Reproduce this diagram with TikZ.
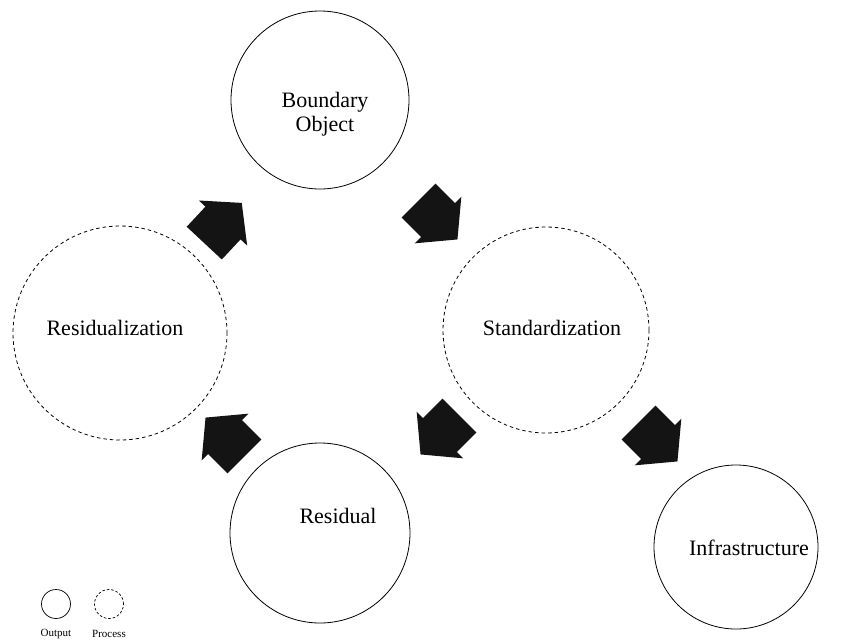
\documentclass[tikz,border=0pt]{standalone}
\usepackage{fontspec}
\setmainfont{Liberation Serif}
\begin{document}
\begin{tikzpicture}[x=1pt,y=-1pt,
  outputc/.style={circle,draw,line width=0.8pt,inner sep=0pt},
  processc/.style={circle,draw,line width=0.8pt,dash pattern=on 3.5pt off 3pt,inner sep=0pt},
  lbl/.style={font=\fontsize{22}{24}\selectfont,align=center,inner sep=0pt},
  small/.style={font=\fontsize{11}{12}\selectfont,inner sep=0pt},
  bigarrow/.pic={\fill[black!92] (-27.5,-24) -- (0,-24) -- (0,-33) -- (27.5,0) -- (0,33) -- (0,24) -- (-27.5,24) -- cycle;}
]
\useasboundingbox (0,0) rectangle (846,641);
% circles
\node[outputc,minimum size=178pt] (bo) at (320,100) {};
\node[processc,minimum size=214pt] (rz) at (120,333) {};
\node[processc,minimum size=206pt] (st) at (546,330) {};
\node[outputc,minimum size=180pt] (re) at (320,533) {};
\node[outputc,minimum size=164pt] (in) at (736,547) {};
% texts
\node[lbl] (tbo) at (325,114) {Boundary\\Object};
\node[lbl] (trz) at (115,328) {Residualization};
\node[lbl] (tst) at (552,328) {Standardization};
\node[lbl] (tre) at (338,516) {Residual};
\node[lbl] (tin) at (749,548) {Infrastructure};
% arrows
\pic[rotate=47] at (223,223) {bigarrow};
\pic[rotate=-45] at (438,220) {bigarrow};
\pic[rotate=225] at (440,435) {bigarrow};
\pic[rotate=135] at (225,437) {bigarrow};
\pic[rotate=-45] at (658,442) {bigarrow};
% legend
\node[outputc,minimum size=29pt,line width=0.7pt] (lo) at (56,604) {};
\node[processc,minimum size=29pt,line width=0.7pt,dash pattern=on 2.5pt off 2pt] (lp) at (109,604) {};
\node[small] (tlo) at (56,634) {Output};
\node[small] (tlp) at (109,634) {Process};
\end{tikzpicture}
\end{document}
